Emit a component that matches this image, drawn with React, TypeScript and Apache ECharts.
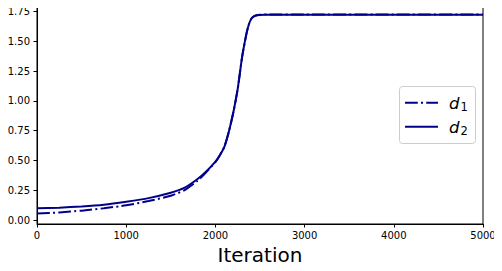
import React, { useEffect, useRef } from "react";
import * as echarts from "echarts";

const iterations = [0, 250, 500, 750, 1000, 1250, 1500, 1650, 1800, 1900, 2000, 2050, 2100, 2150, 2200, 2250, 2300, 2350, 2375, 2400, 2425, 2450, 2500, 2550, 2600, 3000, 4000, 5000];
const d1Values = [0.055, 0.065, 0.08, 0.1, 0.125, 0.16, 0.205, 0.25, 0.33, 0.405, 0.487, 0.545, 0.615, 0.74, 0.9, 1.1, 1.37, 1.57, 1.64, 1.685, 1.705, 1.715, 1.721, 1.723, 1.724, 1.724, 1.724, 1.724];
const d2Values = [0.1, 0.105, 0.115, 0.13, 0.155, 0.185, 0.23, 0.27, 0.345, 0.41, 0.49, 0.545, 0.615, 0.74, 0.9, 1.1, 1.37, 1.57, 1.64, 1.685, 1.705, 1.714, 1.72, 1.722, 1.722, 1.722, 1.722, 1.722];
const yTicks = [0, 0.25, 0.5, 0.75, 1.0, 1.25, 1.5, 1.75];
const xTicks = [0, 1000, 2000, 3000, 4000, 5000];
const seriesNames = ["d1", "d2"];

export default function App() {
  const ref = useRef<HTMLDivElement>(null);
  useEffect(() => {
    const chart = echarts.init(ref.current!, undefined, { renderer: "svg" });
    const color = "#00008b";
    const font = "DejaVu Sans";
    const dashDot = [12.8, 3.2, 2, 3.2];
    const legendText = (name: string, y: number) => ({
      type: "text",
      x: 449,
      y,
      style: {
        text: `{d|d}{s|${name.slice(1)}}`,
        verticalAlign: "middle",
        rich: {
          d: { fontSize: 16.5, fontStyle: "italic", fontFamily: font, fill: "#000", color: "#000" },
          s: { fontSize: 11.5, fontFamily: font, fill: "#000", color: "#000", padding: [7, 0, 0, 1] },
        },
      },
    });
    chart.setOption({
      animation: false,
      grid: { left: 37, right: 19, top: 6, bottom: 47, show: true, borderColor: "#000", borderWidth: 1, backgroundColor: "transparent", outerBoundsMode: "none", containLabel: false },
      xAxis: {
        type: "value",
        min: 0,
        max: 5000,
        interval: 1000,
        name: "Iteration",
        nameLocation: "middle",
        nameGap: 19,
        nameTextStyle: { fontSize: 20, fontFamily: font, color: "#000" },
        axisLine: { show: true, onZero: false, lineStyle: { color: "#000", width: 1 } },
        axisTick: { show: true, length: 3.5, lineStyle: { color: "#000" }, customValues: xTicks },
        axisLabel: { fontSize: 10, fontFamily: font, color: "#000", margin: 6, customValues: xTicks, formatter: (v: number) => String(v) },
        splitLine: { show: false },
      },
      yAxis: {
        type: "value",
        min: -0.032,
        max: 1.795,
        axisLine: { show: true, onZero: false, lineStyle: { color: "#000", width: 1 } },
        axisTick: { show: true, length: 3.5, lineStyle: { color: "#000" }, customValues: yTicks },
        axisLabel: { fontSize: 10, fontFamily: font, color: "#000", margin: 7, customValues: yTicks, formatter: (v: number) => v.toFixed(2) },
        splitLine: { show: false },
      },
      graphic: [
        {
          type: "rect",
          shape: { x: 399.5, y: 86.5, width: 76, height: 57, r: 3 },
          style: { fill: "rgba(255,255,255,0.8)", stroke: "#cccccc", lineWidth: 1 },
          z: 10,
        },
        { type: "line", shape: { x1: 405, y1: 102.7, x2: 438, y2: 102.7 }, style: { stroke: color, lineWidth: 2, lineDash: dashDot }, z: 11 },
        { type: "line", shape: { x1: 405, y1: 126.7, x2: 438, y2: 126.7 }, style: { stroke: color, lineWidth: 2 }, z: 11 },
        { ...legendText(seriesNames[0], 103), z: 11 },
        { ...legendText(seriesNames[1], 127), z: 11 },
      ],
      series: [
        {
          name: seriesNames[0],
          type: "line",
          data: iterations.map((x, i) => [x, d1Values[i]]),
          showSymbol: false,
          symbol: "none",
          smooth: 0.2,
          lineStyle: { color, width: 2, type: dashDot },
          itemStyle: { color },
          z: 3,
        },
        {
          name: seriesNames[1],
          type: "line",
          data: iterations.map((x, i) => [x, d2Values[i]]),
          showSymbol: false,
          symbol: "none",
          smooth: 0.2,
          lineStyle: { color, width: 2, type: "solid" },
          itemStyle: { color },
          z: 2,
        },
      ],
    });
    return () => chart.dispose();
  }, []);
  return <div ref={ref} style={{ width: 502, height: 271, margin: -8, background: "#fff" }} />;
}
